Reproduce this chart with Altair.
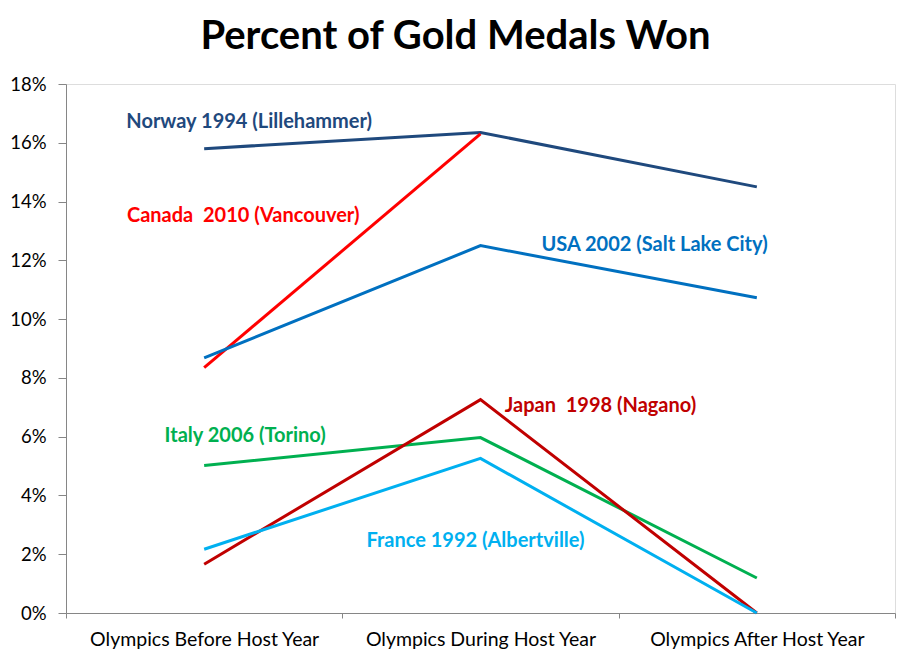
import altair as alt
import pandas as pd

categories = ["Olympics Before Host Year", "Olympics During Host Year", "Olympics After Host Year"]
series = ["Norway", "Canada", "USA", "Italy", "Japan", "France"]
colors = ["#1F497D", "#FF0000", "#0070C0", "#00B050", "#C00000", "#00B0F0"]

norway = [0.158, 0.1635, 0.145]
canada = [0.0835, 0.163, None]
usa = [0.0868, 0.125, 0.1073]
italy = [0.0502, 0.0597, 0.0119]
japan = [0.0166, 0.0726, 0.0]
france = [0.0217, 0.0526, 0.0]

label_text = ["Norway 1994 (Lillehammer)", "Canada\u00a0 2010 (Vancouver)", "USA 2002 (Salt Lake City)",
              "Italy 2006 (Torino)", "Japan\u00a0 1998 (Nagano)", "France 1992 (Albertville)"]
label_cat = [categories[0], categories[0], categories[1], categories[0], categories[1], categories[1]]
label_y = [0.1671, 0.1351, 0.1252, 0.0602, 0.0704, 0.0245]
label_dx = [45, 39, 174, 41, 120, -5]

values = [norway, canada, usa, italy, japan, france]
rows = []
for s, vals in zip(series, values):
    for c, v in zip(categories, vals):
        if v is not None:
            rows.append({"series": s, "period": c, "value": v, "order": categories.index(c)})
df = pd.DataFrame(rows)

FONT = "Lato"
x_enc = alt.X("period:N", sort=categories, title=None,
              scale=alt.Scale(domain=categories, paddingInner=0, paddingOuter=0),
              axis=alt.Axis(labelAngle=0, tickBand="extent", tickSize=5, labelPadding=12,
                            labelFontSize=19.5, labelFont=FONT, labelColor="#000000", labelLimit=0,
                            domainColor="#868686", tickColor="#868686", domainWidth=1, grid=False))
y_enc = alt.Y("value:Q", title=None,
              scale=alt.Scale(domain=[0, 0.18], nice=False, zero=True),
              axis=alt.Axis(format=".0%", values=[i / 100 for i in range(0, 19, 2)], tickSize=8,
                            labelPadding=12, labelFontSize=18.5, labelFont=FONT, labelColor="#000000",
                            domainColor="#868686", tickColor="#868686", grid=False))

lines = alt.Chart(df).mark_line(strokeWidth=3).encode(
    x=x_enc, y=y_enc,
    color=alt.Color("series:N", scale=alt.Scale(domain=series, range=colors), legend=None),
    detail="series:N",
    order="order:Q",
)

layers = [lines]
for s, t, c, yv, dx, col in zip(series, label_text, label_cat, label_y, label_dx, colors):
    ldf = pd.DataFrame([{"series": s, "text": t, "period": c, "value": yv}])
    layers.append(
        alt.Chart(ldf).mark_text(font=FONT, fontSize=20, fontWeight="bold", color=col,
                                 align="center", baseline="middle", dx=dx).encode(
            x=alt.X("period:N", sort=categories), y="value:Q", text="text:N")
    )

chart = alt.layer(*layers).properties(
    width=829, height=529,
    title=alt.TitleParams("Percent of Gold Medals Won", font=FONT, fontSize=40, fontWeight="bold",
                          color="#000000", anchor="middle", offset=18, dx=-25),
    autosize=alt.AutoSizeParams(type="none"),
    padding={"left": 58, "top": 76, "right": 7, "bottom": 40},
).configure_view(stroke=None).configure(background="#FFFFFF")

chart.save("out.html", embed_options={"renderer": "svg", "actions": False})
